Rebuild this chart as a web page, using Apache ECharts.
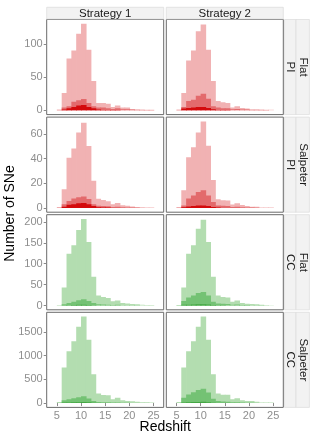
<!DOCTYPE html>
<html><head><meta charset="utf-8">
<script src="https://cdn.jsdelivr.net/npm/echarts@6/dist/echarts.min.js"></script>
<style>html,body{margin:0;padding:0;background:#fff}#c{width:315px;height:438px}</style>
</head><body><div id="c"></div>
<script>
// ---------------- data ----------------
const binEdges = [4,5,6,7,8,9,10,11,12,13,14,15,16,17,18,19,20,21,22,23,24,25,26];
const columnLabels = ['Strategy 1', 'Strategy 2'];
const rowOuterLabels = ['Flat', 'Salpeter', 'Flat', 'Salpeter'];
const rowInnerLabels = ['PI', 'PI', 'CC', 'CC'];
const xTickValues = [5, 10, 15, 20, 25];
const yTicksFlatPI = [0, 50, 100];
const yTicksSalpeterPI = [0, 20, 40, 60];
const yTicksFlatCC = [0, 50, 100, 150, 200];
const yTicksSalpeterCC = [0, 500, 1000, 1500];
const xTitle = 'Redshift';
const yTitle = 'Number of SNe';

// counts per bin (bins 4-5 ... 25-26): all / mid subset / dark subset
const flatPI_s1_all  = [0,1,26,78,90,115,130,91,44,11,11,10,5,7,4,4,1.5,1.5,1,0.7,0.7,0];
const flatPI_s1_mid  = [0,0.5,4,6,13,15,17,11,6,4,4,3,2,3,1.5,1.5,1,0.5,0.3,0.3,0.3,0];
const flatPI_s1_dark = [0,0,1,3,5,7,8,5,3,1,0.5,0.5,0.3,0.3,0,0,0,0,0,0,0,0];
const flatPI_s2_all  = [0,1,26,75,90,119,129,91,44,14,12,11,4,6,3.5,2.5,1.5,1.5,1,0.7,0.7,0];
const flatPI_s2_mid  = [0,0.5,5,14,16,22,25,17.5,6,4,3,3,1.5,2,1,1,0.5,0.5,0.3,0.3,0,0];
const flatPI_s2_dark = [0,0,2.5,3.5,4,5,5,3.5,1.5,0.5,0.3,0.3,0,0,0,0,0,0,0,0,0,0];

const salpPI_s1_all  = [0,0.5,15,40.5,48,61,69,50,22,7.3,6.4,5.4,3,3.9,2.2,1.8,1.1,0.8,0.5,0.4,0.3,0];
const salpPI_s1_mid  = [0,0.2,3,5.5,7.5,8.6,9.3,7.1,3,1.8,1.5,1.3,0.8,1,0.6,0.4,0.3,0.2,0,0,0,0];
const salpPI_s1_dark = [0,0,1,2.5,3,3.8,4,3,1.5,0.5,0.3,0.3,0,0,0,0,0,0,0,0,0,0];
const salpPI_s2_all  = [0,0.5,14.2,41,49,61,70,50.3,22.5,7,6.2,5.9,2.7,3.7,2.4,1.6,1,1,0.4,0.3,0.3,0];
const salpPI_s2_mid  = [0,0.2,2,7.5,10,12.8,14.2,10,4.8,2,1.8,1.6,0.8,1,0.6,0.4,0.3,0.2,0,0,0,0];
const salpPI_s2_dark = [0,0,0.6,1.2,1.6,2,2,1.6,0.8,0.3,0,0,0,0,0,0,0,0,0,0,0,0];

const flatCC_s1_all  = [0,1,43,124,144,181,207,152,69,24,20,18,10,12,6,5,3.5,3,2,1,1,0];
const flatCC_s1_mid  = [0,0,3,6,9,12.6,15,11,6,3,2.5,2,1.2,1.5,0.8,0.6,0.4,0.3,0,0,0,0];
const flatCC_s1_dark = [0,0,0.3,0.8,1.2,1.5,1.6,1.2,0.6,0.2,0,0,0,0,0,0,0,0,0,0,0,0];
const flatCC_s2_all  = [0,1,43,124,144,184,205,152,69,24,20,19,9,12,6,4,3.5,3,1.5,1,0.8,0];
const flatCC_s2_mid  = [0,0.5,11,19,24,30,32,24,9,5,4,3.5,2,2.5,1.2,1,0.6,0.5,0.3,0,0,0];
const flatCC_s2_dark = [0,0,1.5,2,2.5,3,3,2.5,1,0.5,0.3,0,0,0,0,0,0,0,0,0,0,0];

const salpCC_s1_all  = [0,15,750,1097,1305,1611,1826,1340,611,201,170,165,83,111,62,42,40,30,20,15,10,0];
const salpCC_s1_mid  = [0,5,62,83,104,125,146,97,42,25,20,18,10,12,7,5,4,3,2,0,0,0];
const salpCC_s1_dark = [0,0,10,14,18,20,22,16,7,3,2,2,1,1,0,0,0,0,0,0,0,0];
const salpCC_s2_all  = [0,15,750,1097,1305,1611,1826,1340,611,201,174,174,83,104,62,42,42,30,14,14,10,0];
const salpCC_s2_mid  = [0,8,111,180,229,278,305,222,90,42,35,30,15,20,10,8,6,4,2,1,0,0];
const salpCC_s2_dark = [0,0,14,18,22,25,26,20,8,3,2,2,1,1,0,0,0,0,0,0,0,0];

const panelData = [
  [[flatPI_s1_all, flatPI_s1_mid, flatPI_s1_dark], [flatPI_s2_all, flatPI_s2_mid, flatPI_s2_dark]],
  [[salpPI_s1_all, salpPI_s1_mid, salpPI_s1_dark], [salpPI_s2_all, salpPI_s2_mid, salpPI_s2_dark]],
  [[flatCC_s1_all, flatCC_s1_mid, flatCC_s1_dark], [flatCC_s2_all, flatCC_s2_mid, flatCC_s2_dark]],
  [[salpCC_s1_all, salpCC_s1_mid, salpCC_s1_dark], [salpCC_s2_all, salpCC_s2_mid, salpCC_s2_dark]]
];
const rowYTicks = [yTicksFlatPI, yTicksSalpeterPI, yTicksFlatCC, yTicksSalpeterCC];

// ---------------- style / layout ----------------
const redLayers = ['#f1b2b3', '#e36a6c', '#d40a0c'];
const greenLayers = ['#b3ddb0', '#74c274', '#43a743'];
const rowPalettes = [redLayers, redLayers, greenLayers, greenLayers];
const FONT = 'Liberation Sans, Arial, sans-serif';
const PANEL_L = [46.7, 166.3];
const PANEL_W = 117;
const PANEL_T = [19.5, 117.1, 214.7, 312.3];
const PANEL_H = 95.1;
const X_MIN = 2.9, X_MAX = 27.1;
const SEAM_OVERLAP = 0.7; // px overlap to hide antialiasing seams between adjacent bins

function renderBin(params, api) {
  const x0 = api.value(0), x1 = api.value(1), v = api.value(2);
  if (!v) return null;
  const p0 = api.coord([x0, 0]);
  const p1 = api.coord([x1, v]);
  return {
    type: 'rect',
    shape: { x: p0[0], y: p1[1], width: p1[0] - p0[0] + SEAM_OVERLAP, height: p0[1] - p1[1] },
    style: { fill: api.visual('color') }
  };
}

const grids = [], xAxes = [], yAxes = [], series = [], graphics = [];
for (let r = 0; r < 4; r++) {
  let rowMax = 0;
  panelData[r].forEach(p => p.forEach(arr => arr.forEach(v => { if (v > rowMax) rowMax = v; })));
  for (let c = 0; c < 2; c++) {
    const gi = r * 2 + c;
    grids.push({
      left: PANEL_L[c], top: PANEL_T[r], width: PANEL_W, height: PANEL_H,
      show: true, backgroundColor: '#fff', borderColor: '#6a6a6a', borderWidth: 1
    });
    xAxes.push({
      type: 'value', gridIndex: gi, min: X_MIN, max: X_MAX,
      axisLine: { show: false }, splitLine: { show: false },
      axisTick: { show: r === 3, length: 3, lineStyle: { color: '#8a8a8a', width: 1 }, customValues: xTickValues },
      axisLabel: { show: r === 3, customValues: xTickValues, margin: 3, color: '#8e8e8e', fontSize: 11, fontFamily: FONT,
        formatter: v => String(v) }
    });
    yAxes.push({
      type: 'value', gridIndex: gi, min: -0.05 * rowMax, max: 1.05 * rowMax,
      axisLine: { show: false }, splitLine: { show: false },
      axisTick: { show: c === 0, length: 3, lineStyle: { color: '#8a8a8a', width: 1 }, customValues: rowYTicks[r] },
      axisLabel: { show: c === 0, customValues: rowYTicks[r], margin: 4, color: '#8e8e8e', fontSize: 11, fontFamily: FONT,
        formatter: v => String(v) }
    });
    panelData[r][c].forEach((arr, li) => {
      series.push({
        type: 'custom', xAxisIndex: gi, yAxisIndex: gi, clip: true,
        renderItem: renderBin,
        itemStyle: { color: rowPalettes[r][li] },
        encode: { x: [0, 1], y: 2 },
        data: arr.map((v, i) => [binEdges[i], binEdges[i + 1], v]),
        z: 2 + li
      });
    });
  }
}

// column strips
for (let c = 0; c < 2; c++) {
  graphics.push({ type: 'rect', shape: { x: PANEL_L[c], y: 7.3, width: PANEL_W, height: 11.7 },
    style: { fill: '#f2f2f2', stroke: '#dedede', lineWidth: 0.8 } });
  graphics.push({ type: 'text', x: PANEL_L[c] + PANEL_W / 2, y: 13.4,
    style: { text: columnLabels[c], fill: '#1a1a1a', font: '11.5px ' + FONT, textAlign: 'center', textVerticalAlign: 'middle' } });
}
// row strips
for (let r = 0; r < 4; r++) {
  const cy = PANEL_T[r] + PANEL_H / 2;
  graphics.push({ type: 'rect', shape: { x: 284.6, y: PANEL_T[r], width: 11.4, height: PANEL_H },
    style: { fill: '#f2f2f2', stroke: '#dedede', lineWidth: 0.8 } });
  graphics.push({ type: 'rect', shape: { x: 296, y: PANEL_T[r], width: 13.4, height: PANEL_H },
    style: { fill: '#f2f2f2', stroke: '#dedede', lineWidth: 0.8 } });
  graphics.push({ type: 'text', x: 290.4, y: cy, rotation: -Math.PI / 2,
    style: { text: rowInnerLabels[r], fill: '#1a1a1a', font: '11.5px ' + FONT, textAlign: 'center', textVerticalAlign: 'middle' } });
  graphics.push({ type: 'text', x: 302.8, y: cy, rotation: -Math.PI / 2,
    style: { text: rowOuterLabels[r], fill: '#1a1a1a', font: '11.5px ' + FONT, textAlign: 'center', textVerticalAlign: 'middle' } });
}
// axis titles
graphics.push({ type: 'text', x: 165.2, y: 427.5,
  style: { text: xTitle, fill: '#000', font: '14px ' + FONT, textAlign: 'center', textVerticalAlign: 'middle' } });
graphics.push({ type: 'text', x: 10.5, y: 213.5, rotation: Math.PI / 2,
  style: { text: yTitle, fill: '#000', font: '14px ' + FONT, textAlign: 'center', textVerticalAlign: 'middle' } });

const chart = echarts.init(document.getElementById('c'), null, { renderer: 'canvas' });
chart.setOption({
  animation: false,
  backgroundColor: '#fff',
  grid: grids, xAxis: xAxes, yAxis: yAxes, series: series,
  graphic: graphics
});
</script>
</body></html>
